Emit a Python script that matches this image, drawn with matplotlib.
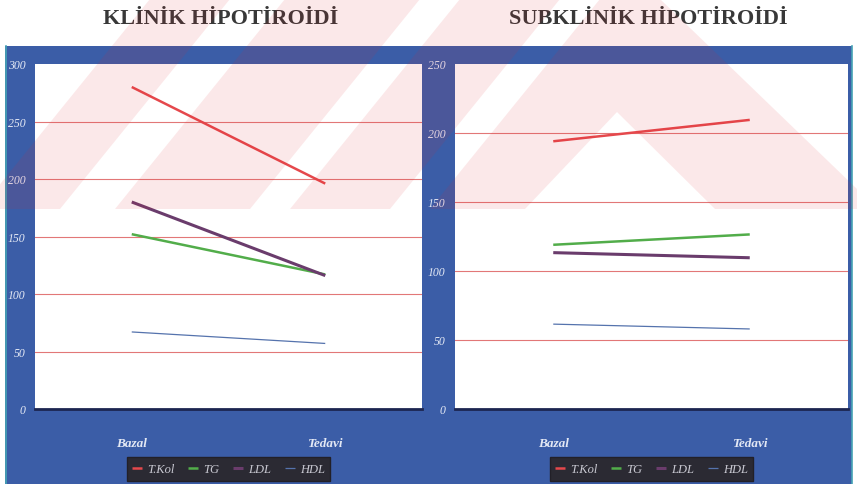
import matplotlib
matplotlib.use("Agg")
import matplotlib.pyplot as plt
from matplotlib.patches import Rectangle, Polygon
from matplotlib.lines import Line2D

# veri
donem = ['Bazal', 'Tedavi']
seriler = ['T.Kol', 'TG', 'LDL', 'HDL']

klinik_tkol = [280, 196]
klinik_tg = [152, 117]
klinik_ldl = [180, 116]
klinik_hdl = [67, 57]

subklinik_tkol = [194, 209.5]
subklinik_tg = [119, 126.5]
subklinik_ldl = [113.3, 109.6]
subklinik_hdl = [61.5, 58]

renkler = ['#e5484c', '#52ad4a', '#6a3c6c', '#5573ad']
kalinlik = [1.8, 1.8, 2.2, 0.9]

W, H = 857, 485
mavi = '#3b5da7'
lacivert = '#1c2550'
yazi = '#e3e8f4'


def px(x, y):
    return x / W, 1 - y / H


fig = plt.figure(figsize=(W / 100, H / 100), dpi=100)
fig.patch.set_facecolor('white')

# mavi zemin
fx, fy = px(5, H)
fig.add_artist(Rectangle((fx, fy), (852 - 5) / W, (H - 47) / H,
                         transform=fig.transFigure, facecolor=mavi,
                         edgecolor='none', zorder=-2))
for x in (5.5, 851.5):
    fig.add_artist(Line2D([x / W, x / W], [0, 1 - 47 / H], transform=fig.transFigure,
                          color='#46a3b5', lw=1.2, zorder=-1))


def ciz(ax, degerler, ymax, baslik, baslik_x):
    for d, ad, c, lw in zip(degerler, seriler, renkler, kalinlik):
        ax.plot(donem, d, color=c, lw=lw, label=ad, solid_capstyle='butt', zorder=3)
    ax.set_xlim(-0.5, 1.5)
    ax.set_ylim(0, ymax)
    ticks = list(range(0, ymax + 1, 50))
    ax.set_yticks(ticks)
    ax.set_yticklabels([str(t) for t in ticks], family='Liberation Serif',
                       style='italic', fontsize=8.5, color=yazi)
    ax.set_xticks(range(len(donem)))
    ax.set_xticklabels(donem, family='Liberation Serif', style='italic',
                       weight='bold', fontsize=9.5, color=yazi)
    ax.tick_params(axis='y', length=0, pad=7)
    ax.tick_params(axis='x', length=0, pad=20)
    for t in ticks[1:]:
        if t < ymax:
            ax.axhline(t, color='#e27777', lw=0.8, zorder=1)
    for s in ['top', 'right', 'left']:
        ax.spines[s].set_visible(False)
    ax.spines['bottom'].set_color(lacivert)
    ax.spines['bottom'].set_linewidth(2)
    leg = ax.legend(loc='center', bbox_to_anchor=(0.5, -0.174), ncol=4,
                    frameon=True, fancybox=False, framealpha=1,
                    facecolor='#2b2a33', edgecolor='#222028',
                    handlelength=0.8, handletextpad=0.4, columnspacing=1.1,
                    borderpad=0.45, prop={'family': 'Liberation Serif',
                                          'style': 'italic', 'size': 9})
    for t in leg.get_texts():
        t.set_color('#c9c9d2')
    fig.text(baslik_x, px(0, 19)[1], baslik, ha='center', va='center',
             family='Liberation Serif', weight='bold', fontsize=16,
             color='#383838')


x0, y0 = px(35, 410)
ax1 = fig.add_axes([x0, y0, (422 - 35) / W, 345 / H])
ciz(ax1, [klinik_tkol, klinik_tg, klinik_ldl, klinik_hdl], 300,
    'KLİNİK HİPOTİROİDİ', 221 / W)

x0, y0 = px(455, 410)
ax2 = fig.add_axes([x0, y0, (848 - 455) / W, 345 / H])
ciz(ax2, [subklinik_tkol, subklinik_tg, subklinik_ldl, subklinik_hdl], 250,
    'SUBKLİNİK HİPOTİROİDİ', 648 / W)

# arka plandaki soluk kırmızı amblem
bantlar = [
    [(-20, 210), (60, 210), (230, 0), (150, 0)],
    [(115, 210), (250, 210), (420, 0), (285, 0)],
    [(290, 210), (390, 210), (560, 0), (460, 0)],
    [(430, 210), (600, 0), (660, 0), (857, 190), (857, 210),
     (715, 210), (617, 113), (525, 210)],
]
for b in bantlar:
    fig.add_artist(Polygon([px(x, y) for x, y in b], closed=True,
                           transform=fig.transFigure, facecolor='#e0242c',
                           edgecolor='none', alpha=0.1, zorder=10))

fig.savefig('out.png', dpi=100)
